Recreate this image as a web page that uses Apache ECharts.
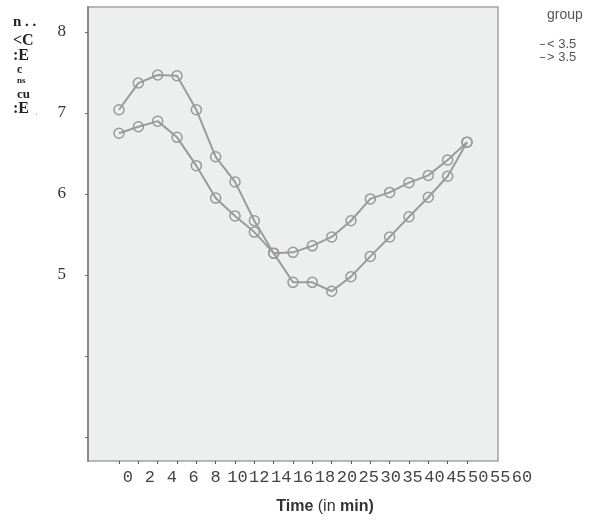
<!DOCTYPE html>
<html>
<head>
<meta charset="utf-8">
<script src="https://cdn.jsdelivr.net/npm/echarts@6/dist/echarts.min.js"></script>
<style>
  html, body { margin: 0; padding: 0; background: #fff; }
  #chart { width: 596px; height: 520px; }
</style>
</head>
<body>
<div id="chart"></div>
<script>
// time points (category labels along the bottom)
const minutes = ['0', '2', '4', '6', '8', '10', '12', '14', '16', '18', '20', '25', '30', '35', '40', '45', '50', '55', '60'];
const groupNames = ['< 3.5', '> 3.5'];
// mean values per time point
const lowGroup = [7.04, 7.37, 7.47, 7.46, 7.04, 6.46, 6.15, 5.67, 5.27, 4.91, 4.91, 4.80, 4.98, 5.23, 5.47, 5.72, 5.96, 6.22, 6.64];
const highGroup = [6.75, 6.83, 6.90, 6.70, 6.35, 5.95, 5.73, 5.53, 5.27, 5.28, 5.36, 5.47, 5.67, 5.94, 6.02, 6.14, 6.23, 6.42, 6.64];
const yTicks = [3, 4, 5, 6, 7, 8];
const yLabels = [5, 6, 7, 8];

const lineGray = '#9b9b9b';

function toPoints(values) {
  return values.map((v, i) => [i, v]);
}

// the stacked, half-legible y axis title
const yTitleBits = [
  { text: 'n . .', x: 13, y: 22, size: 15 },
  { text: '<C', x: 13, y: 41, size: 16 },
  { text: ':E', x: 13, y: 56, size: 16 },
  { text: 'c', x: 17, y: 70, size: 12 },
  { text: 'ns', x: 17, y: 81, size: 9 },
  { text: 'cu', x: 17, y: 95, size: 13 },
  { text: ':E', x: 13, y: 109, size: 16 }
];

const chart = echarts.init(document.getElementById('chart'));

const option = {
  animation: false,
  backgroundColor: '#fff',
  title: {
    text: 'group',
    left: 542,
    top: 3,
    textStyle: { fontFamily: 'Liberation Sans', fontSize: 14, fontWeight: 'normal', color: '#555' }
  },
  legend: {
    orient: 'vertical',
    left: 535,
    top: 33,
    itemGap: 0,
    icon: 'rect',
    itemWidth: 5,
    itemHeight: 1,
    itemStyle: { color: '#666', borderWidth: 0 },
    textStyle: { fontFamily: 'Liberation Sans Narrow, Liberation Sans', fontSize: 13, color: '#555', lineHeight: 12, padding: [0, 0, 0, -3] },
    data: groupNames
  },
  graphic: yTitleBits.map((b) => ({
    type: 'text',
    left: b.x,
    top: b.y - b.size / 2,
    style: { text: b.text, font: 'bold ' + b.size + 'px "Liberation Serif"', fill: '#222' }
  })).concat([{
    type: 'text', left: 35, top: 106,
    style: { text: '.', font: '12px "Liberation Serif"', fill: '#aaa' }
  }]),
  grid: [
    {
      left: 88, top: 7, width: 410, height: 454,
      show: true,
      backgroundColor: '#edefef',
      borderColor: '#a3a3a3',
      borderWidth: 1.5
    },
    // label strip under the frame
    { left: 117, top: 461, width: 416, height: 1 }
  ],
  xAxis: [
    {
      gridIndex: 0,
      type: 'value',
      min: -1.604,
      max: 19.604,
      axisLine: { show: false },
      axisTick: { show: true, customValues: minutes.map((m, i) => i), length: 3, lineStyle: { color: '#555' } },
      axisLabel: { show: false },
      splitLine: { show: false }
    },
    {
      gridIndex: 1,
      type: 'category',
      data: minutes,
      position: 'bottom',
      axisLine: { show: false },
      axisTick: { show: false },
      axisLabel: { interval: 0, margin: 7, fontFamily: 'Liberation Mono', fontSize: 17, color: '#444' },
      name: '{b|Time} (in {b|min)}',
      nameLocation: 'middle',
      nameGap: 37,
      nameTextStyle: {
        fontFamily: 'Liberation Sans', fontSize: 16, color: '#333',
        rich: { b: { fontFamily: 'Liberation Sans', fontSize: 16, fontWeight: 'bold', color: '#333' } }
      }
    }
  ],
  yAxis: [
    {
      gridIndex: 0,
      type: 'value',
      min: 2.704,
      max: 8.309,
      axisLine: { show: true, onZero: false, lineStyle: { color: '#8a8a8a', width: 2 } },
      axisTick: { show: true, customValues: yTicks, length: 3, lineStyle: { color: '#666' } },
      axisLabel: { customValues: yLabels, margin: 22, fontFamily: 'Liberation Serif', fontSize: 17, color: '#333' },
      splitLine: { show: false }
    },
    { gridIndex: 1, type: 'value', show: false }
  ],
  series: [
    {
      name: groupNames[0],
      type: 'line',
      xAxisIndex: 0,
      yAxisIndex: 0,
      data: toPoints(lowGroup),
      symbol: 'circle',
      symbolSize: 10,
      lineStyle: { color: lineGray, width: 2 },
      itemStyle: { color: 'rgba(0,0,0,0)', borderColor: '#999', borderWidth: 1.5 }
    },
    {
      name: groupNames[1],
      type: 'line',
      xAxisIndex: 0,
      yAxisIndex: 0,
      data: toPoints(highGroup),
      symbol: 'circle',
      symbolSize: 10,
      lineStyle: { color: lineGray, width: 2 },
      itemStyle: { color: 'rgba(0,0,0,0)', borderColor: '#999', borderWidth: 1.5 }
    }
  ]
};

chart.setOption(option);
window.addEventListener('resize', () => {
  chart.resize();
});
</script>
</body>
</html>
